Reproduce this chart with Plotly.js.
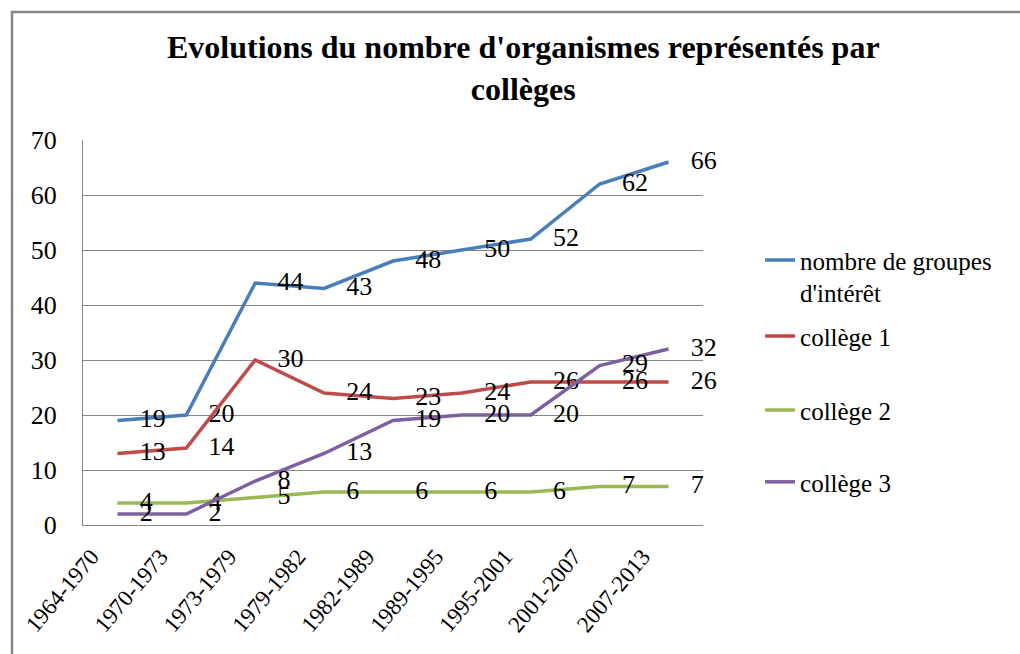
<!DOCTYPE html>
<html><head><meta charset="utf-8">
<script src="https://cdn.plot.ly/plotly-3.0.1.min.js"></script>
<style>
html,body{margin:0;padding:0;background:#fff;overflow:hidden;}
#chart{width:1020px;height:654px;}
</style></head><body>
<div id="chart"></div>
<script>
const periods = ['1964-1970','1970-1973','1973-1979','1979-1982','1982-1989','1989-1995','1995-2001','2001-2007','2007-2013'];
const groupesInteret = [19, 20, 44, 43, 48, 50, 52, 62, 66];
const college1 = [13, 14, 30, 24, 23, 24, 26, 26, 26];
const college2 = [4, 4, 5, 6, 6, 6, 6, 7, 7];
const college3 = [2, 2, 8, 13, 19, 20, 20, 29, 32];
const seriesNames = ["nombre de groupes<br>d'intérêt", 'collège 1', 'collège 2', 'collège 3'];
const colors = ['#4A7EBB', '#BE4B48', '#98B954', '#7D60A0'];

const FONT = 'Liberation Serif';
function mk(name, vals, color, leg) {
  return {
    x: periods, y: vals, name: name, type: 'scatter', mode: 'lines+markers+text',
    text: vals.map(String), textposition: 'middle right',
    textfont: {family: FONT, size: 26, color: '#000'},
    line: {color: color, width: 3.5},
    marker: {size: 34, color: 'rgba(0,0,0,0)'},
    legend: leg, cliponaxis: false, hoverinfo: 'x+y+name'
  };
}
const data = [
  mk(seriesNames[0], groupesInteret, colors[0], 'legend'),
  mk(seriesNames[1], college1, colors[1], 'legend2'),
  mk(seriesNames[2], college2, colors[2], 'legend3'),
  mk(seriesNames[3], college3, colors[3], 'legend4')
];
function leg(y, valign) {
  return {x: 1.092, xanchor: 'left', y: y, yanchor: 'middle', valign: valign || 'middle',
    bgcolor: 'rgba(0,0,0,0)', borderwidth: 0,
    font: {family: FONT, size: 25, color: '#000'}};
}
const layout = {
  width: 1020, height: 654,
  font: {family: FONT, color: '#000'},
  paper_bgcolor: '#fff', plot_bgcolor: '#fff',
  margin: {l: 83, r: 317, t: 140, b: 129},
  title: {
    text: "Evolutions du nombre d'organismes représentés par<br>collèges",
    font: {family: FONT, size: 32, weight: 'bold', color: '#000'},
    x: 0.513, xref: 'container', xanchor: 'center',
    y: 1 - 58/654, yref: 'container', yanchor: 'top'
  },
  xaxis: {
    type: 'category', range: [-0.5, 8.5], showgrid: false,
    showline: true, linecolor: '#868686', linewidth: 1, ticks: '',
    tickangle: -50, tickfont: {family: FONT, size: 23, color: '#000'},
    ticklabelshift: -26, ticklabelstandoff: 8, fixedrange: true
  },
  yaxis: {
    range: [0, 70], dtick: 10, showgrid: true, gridcolor: '#868686', gridwidth: 1,
    showline: true, linecolor: '#868686', linewidth: 1, zeroline: false, ticks: '',
    tickfont: {family: FONT, size: 26, color: '#000'}, ticklabelstandoff: 20, fixedrange: true
  },
  legend: leg(0.646, 'top'),
  legend2: leg(0.490),
  legend3: leg(0.298),
  legend4: leg(0.1115),
  shapes: [{
    type: 'path', xref: 'paper', yref: 'paper', layer: 'above',
    path: 'M -0.1145 -0.36 L -0.1145 1.3325 L 1.52 1.3325',
    line: {color: '#868686', width: 2.5}
  }],
  showlegend: true
};
Plotly.newPlot('chart', data, layout, {displayModeBar: false, staticPlot: true});
</script>
</body></html>
